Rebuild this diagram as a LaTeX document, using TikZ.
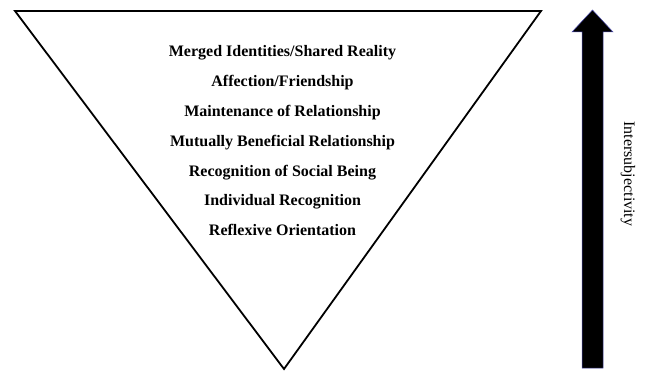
\documentclass[tikz,border=0pt]{standalone}
\usepackage{fontspec}
\setmainfont{Liberation Serif}
\begin{document}
\begin{tikzpicture}[x=1pt,y=-1pt,
  level/.style={anchor=base,inner sep=0pt,font=\fontsize{16}{19}\selectfont\bfseries},
  axislabel/.style={rotate=-90,inner sep=0pt,font=\fontsize{16}{19}\selectfont},
  funnel/.style={draw=black,line width=1.8pt,line join=miter},
  bigarrow/.style={fill=black,draw=blue!55!black!70,line width=0.5pt,line join=miter}]
  \useasboundingbox (0,0) rectangle (648,371);
  % inverted triangle
  \coordinate (tl) at (15,11);
  \coordinate (tr) at (541,11);
  \coordinate (bt) at (284,369);
  \draw[funnel] (tl) -- (tr) -- (bt) -- cycle;
  % levels, top to bottom
  \node[level] (l1) at (282.5,57) {Merged Identities/Shared Reality};
  \node[level] (l2) at (282.5,86.8) {Affection/Friendship};
  \node[level] (l3) at (282.5,116.6) {Maintenance of Relationship};
  \node[level] (l4) at (282.5,146.4) {Mutually Beneficial Relationship};
  \node[level] (l5) at (282.5,176.2) {Recognition of Social Being};
  \node[level] (l6) at (282.5,206) {Individual Recognition};
  \node[level] (l7) at (282.5,235.8) {Reflexive Orientation};
  % upward block arrow
  \draw[bigarrow] (592.5,10) -- (613,32) -- (603,32) -- (603,368)
     -- (582,368) -- (582,32) -- (572,32) -- cycle;
  \node[axislabel] (ax) at (628,174) {Intersubjectivity};
\end{tikzpicture}
\end{document}
